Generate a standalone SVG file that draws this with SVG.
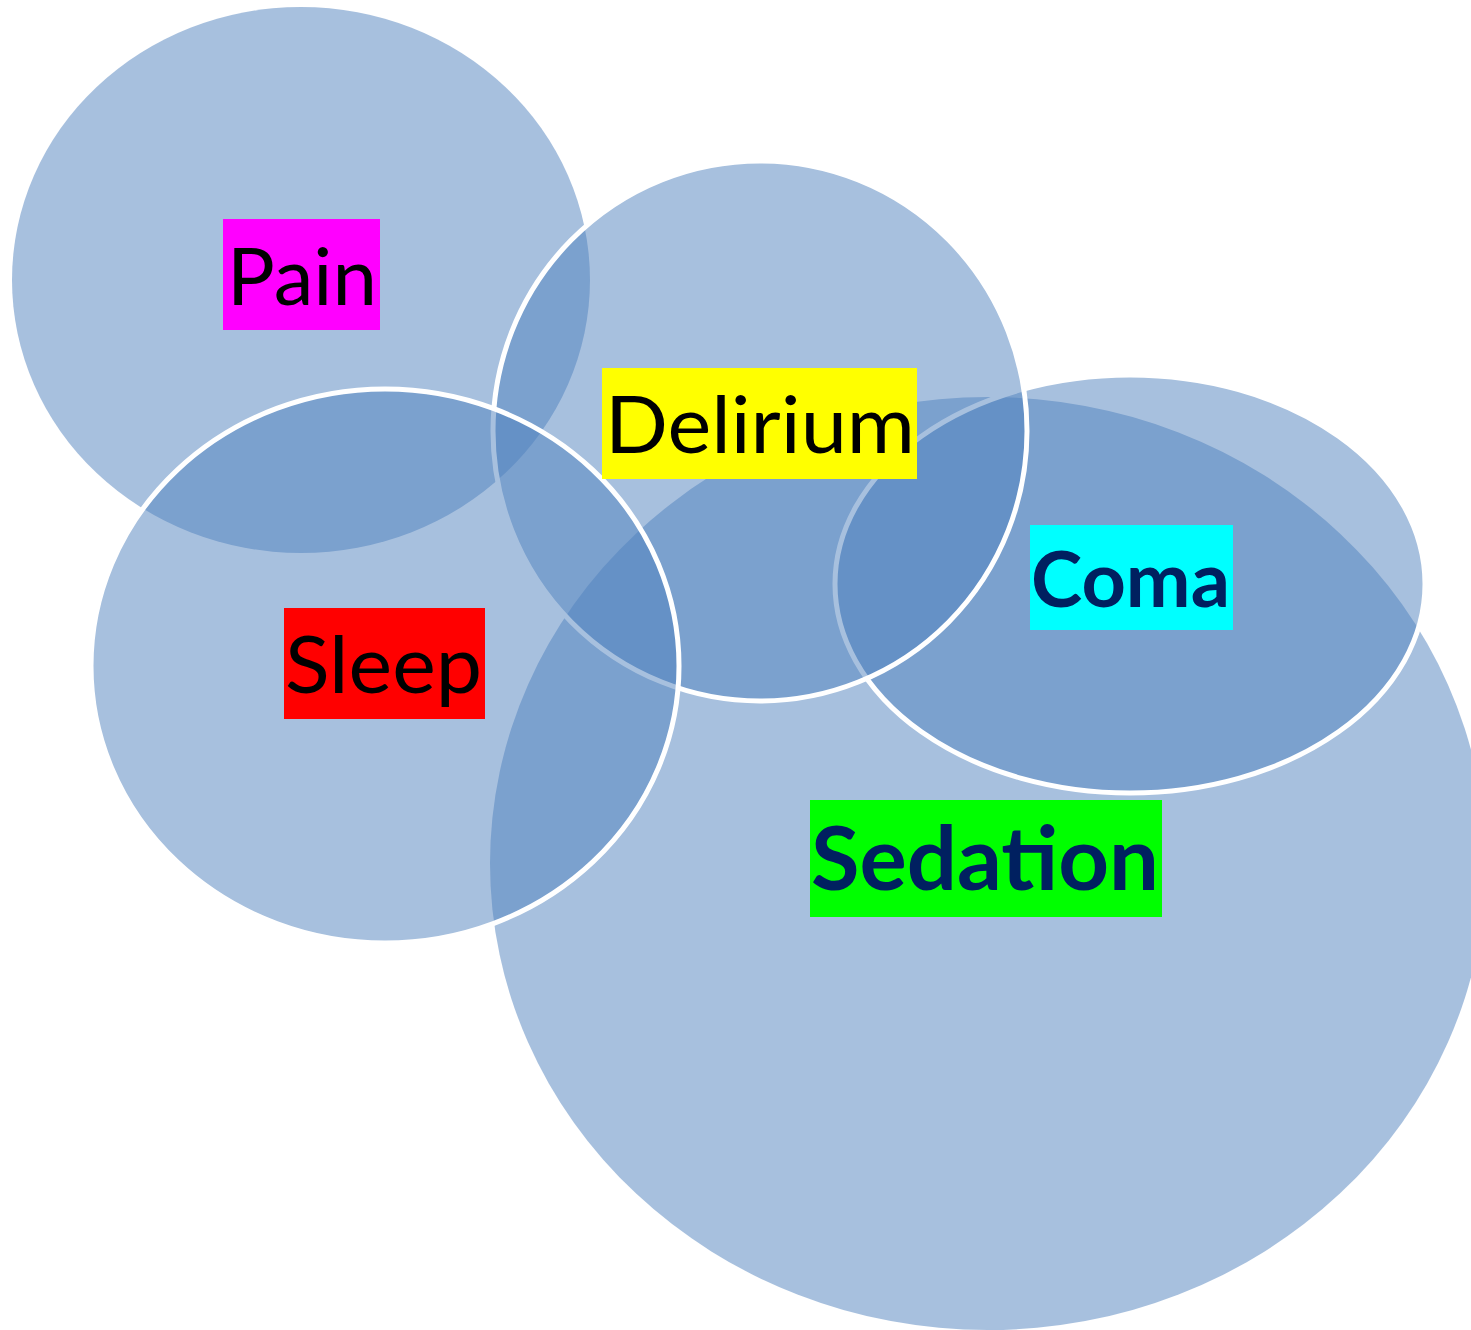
<svg xmlns="http://www.w3.org/2000/svg" width="1471" height="1330" viewBox="0 0 1471 1330">
<style>
.shape{fill:#4F81BD;fill-opacity:0.5}
.outl{stroke:#FFFFFF;stroke-width:5}
.lbl{font-family:"Lato","Open Sans","Liberation Sans",sans-serif;font-size:80px;fill:#000000}
.bold{font-weight:bold;fill:#002060}
</style>
<rect width="1471" height="1330" fill="#FFFFFF"/>
<g id="pain-shape"><ellipse class="shape" cx="301" cy="280" rx="289" ry="273"/></g>
<g id="sedation-shape"><ellipse class="shape" cx="988" cy="863.5" rx="498" ry="466.5"/></g>
<g id="coma-shape"><ellipse class="shape outl" cx="1130" cy="584" rx="295" ry="209"/></g>
<g id="delirium-shape"><ellipse class="shape outl" cx="760" cy="431" rx="267" ry="270"/></g>
<g id="sleep-shape"><ellipse class="shape outl" cx="385" cy="666" rx="294" ry="277"/></g>
<g id="connectors"></g>
<g id="pain">
<rect x="223" y="219" width="157" height="111" fill="#FF00FF"/>
<text class="lbl" x="227" y="305" textLength="150" lengthAdjust="spacingAndGlyphs">Pain</text>
</g>
<g id="delirium">
<rect x="602" y="368" width="315" height="111" fill="#FFFF00"/>
<text class="lbl" x="605" y="453" textLength="310" lengthAdjust="spacingAndGlyphs">Delirium</text>
</g>
<g id="sleep">
<rect x="284" y="608" width="201" height="111" fill="#FF0000"/>
<text class="lbl" x="285" y="693" textLength="197" lengthAdjust="spacingAndGlyphs">Sleep</text>
</g>
<g id="coma">
<rect x="1030" y="525" width="203" height="105" fill="#00FFFF"/>
<text class="lbl bold" x="1031" y="607" textLength="199" lengthAdjust="spacingAndGlyphs" style="font-size:77px">Coma</text>
</g>
<g id="sedation">
<rect x="810" y="800" width="352" height="117" fill="#00FF00"/>
<text class="lbl bold" x="811" y="890" textLength="348" lengthAdjust="spacingAndGlyphs" style="font-size:88px">Sedation</text>
</g>
</svg>
